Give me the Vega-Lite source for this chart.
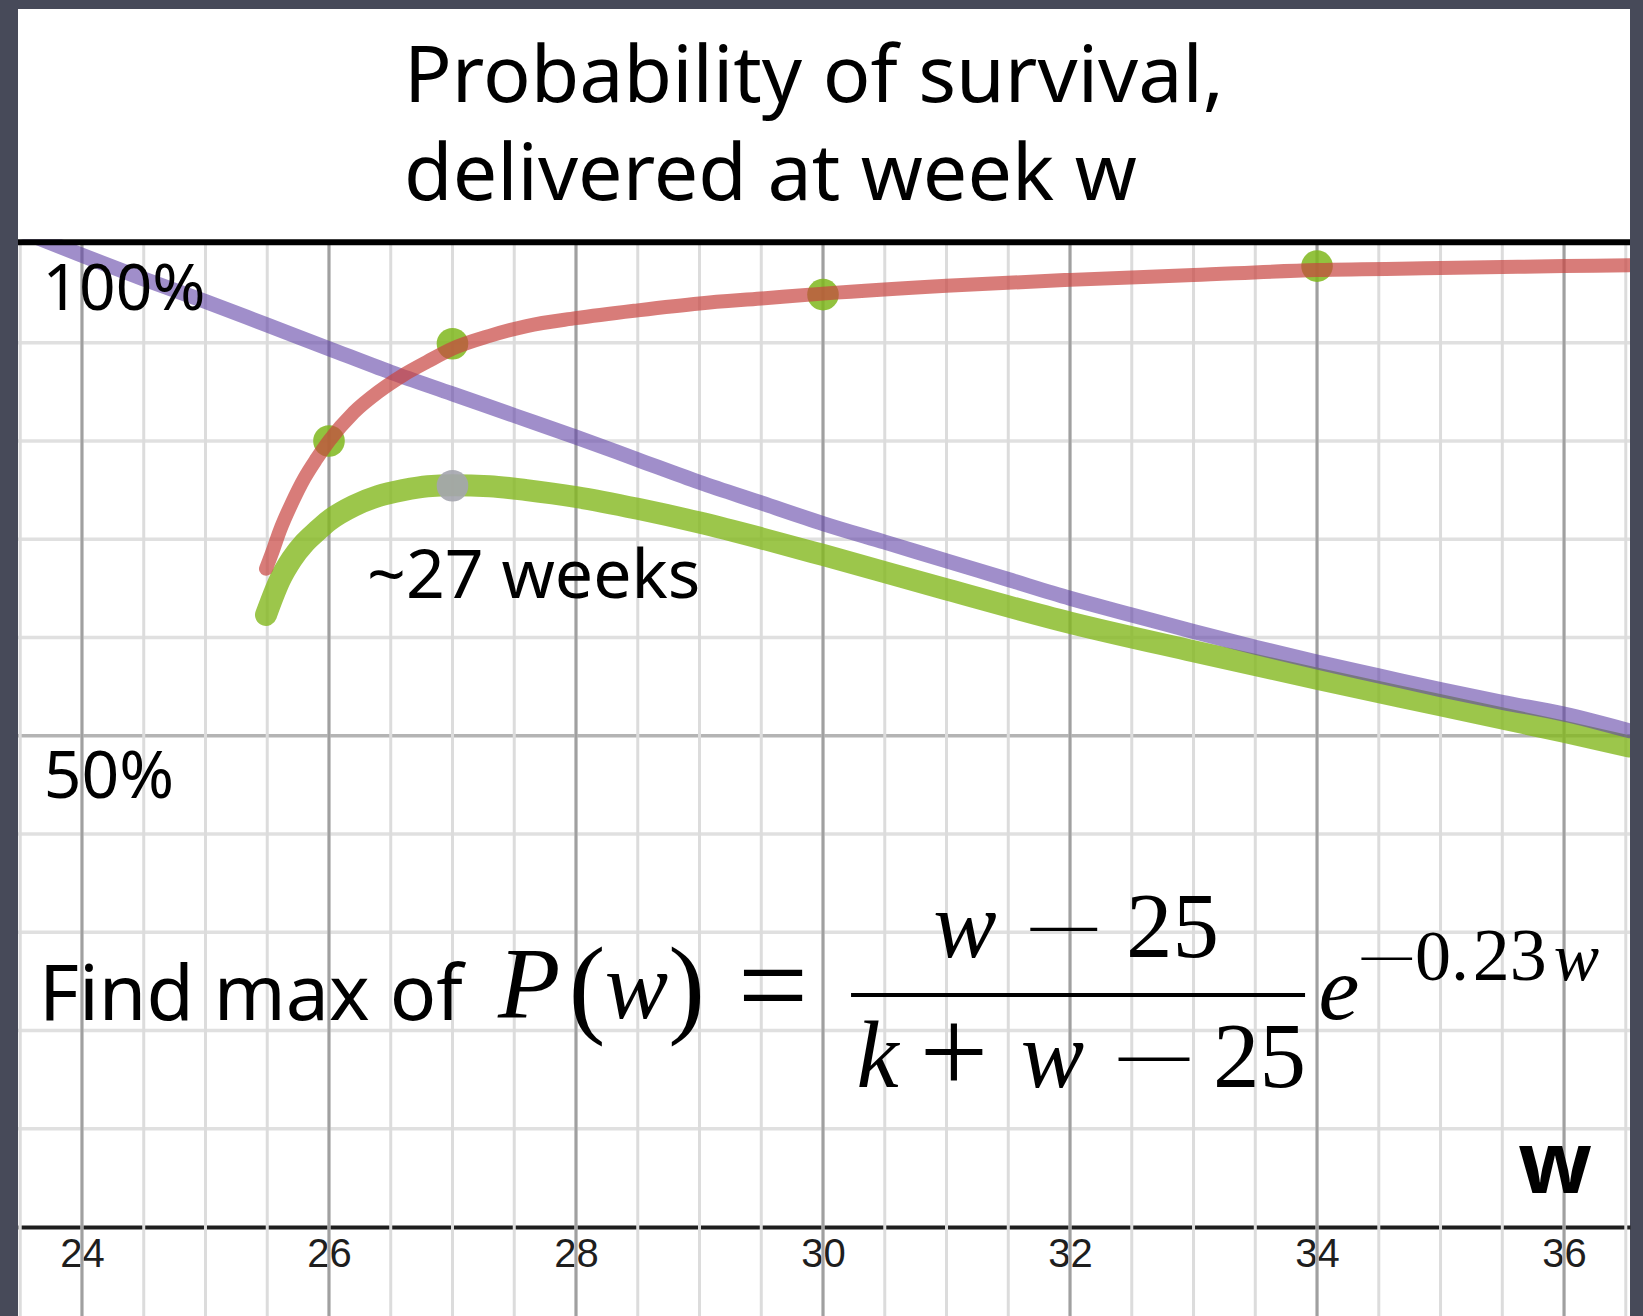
{
  "$schema": "https://vega.github.io/schema/vega-lite/v6.json",
  "width": 1612,
  "height": 1307,
  "autosize": {"type": "none"},
  "padding": {"left": 18, "top": 9, "right": 13, "bottom": 0},
  "background": "#474a59",
  "config": {
    "view": {"fill": "white", "stroke": null},
    "axisY": {"disable": true},
    "axis": {"title": null}
  },
  "datasets": {
    "vminor": [{"w":23.5},{"w":24},{"w":24.5},{"w":25},{"w":25.5},{"w":26},{"w":26.5},{"w":27},{"w":27.5},{"w":28},{"w":28.5},{"w":29},{"w":29.5},{"w":30},{"w":30.5},{"w":31},{"w":31.5},{"w":32},{"w":32.5},{"w":33},{"w":33.5},{"w":34},{"w":34.5},{"w":35},{"w":35.5},{"w":36},{"w":36.5}],
    "vmajor": [{"w":24},{"w":26},{"w":28},{"w":30},{"w":32},{"w":34},{"w":36}],
    "hminor": [{"p":10},{"p":20},{"p":30},{"p":40},{"p":60},{"p":70},{"p":80},{"p":90}],
    "hmajor": [{"p":50}],
    "curves": [
      {"series":"survival","w":25.49,"p":67.0},{"series":"survival","w":25.55,"p":69.0},{"series":"survival","w":25.6,"p":70.8},{"series":"survival","w":25.7,"p":73.7},{"series":"survival","w":25.8,"p":76.2},{"series":"survival","w":25.9,"p":78.2},{"series":"survival","w":26.0,"p":80.0},{"series":"survival","w":26.2,"p":82.9},{"series":"survival","w":26.4,"p":85.0},{"series":"survival","w":26.6,"p":86.7},{"series":"survival","w":26.8,"p":88.1},{"series":"survival","w":27.0,"p":89.4},{"series":"survival","w":27.3,"p":90.7},{"series":"survival","w":27.6,"p":91.7},{"series":"survival","w":28.0,"p":92.5},{"series":"survival","w":28.5,"p":93.3},{"series":"survival","w":29.0,"p":94.0},{"series":"survival","w":29.5,"p":94.5},{"series":"survival","w":30.0,"p":95.0},{"series":"survival","w":31.0,"p":95.8},{"series":"survival","w":32.0,"p":96.4},{"series":"survival","w":33.0,"p":96.9},{"series":"survival","w":34.0,"p":97.4},{"series":"survival","w":35.0,"p":97.6},{"series":"survival","w":36.0,"p":97.8},{"series":"survival","w":36.53,"p":97.9},
      {"series":"decay","w":23.48,"p":101.5},{"series":"decay","w":24.0,"p":98.9},{"series":"decay","w":24.5,"p":96.5},{"series":"decay","w":25.0,"p":94.2},{"series":"decay","w":25.5,"p":91.8},{"series":"decay","w":26.0,"p":89.4},{"series":"decay","w":26.5,"p":87.0},{"series":"decay","w":27.0,"p":84.8},{"series":"decay","w":27.5,"p":82.6},{"series":"decay","w":28.0,"p":80.4},{"series":"decay","w":28.5,"p":78.1},{"series":"decay","w":29.0,"p":75.8},{"series":"decay","w":29.5,"p":73.7},{"series":"decay","w":30.0,"p":71.6},{"series":"decay","w":30.5,"p":69.7},{"series":"decay","w":31.0,"p":67.8},{"series":"decay","w":31.5,"p":65.9},{"series":"decay","w":32.0,"p":64.0},{"series":"decay","w":32.5,"p":62.3},{"series":"decay","w":33.0,"p":60.6},{"series":"decay","w":33.5,"p":59.0},{"series":"decay","w":34.0,"p":57.5},{"series":"decay","w":34.5,"p":56.1},{"series":"decay","w":35.0,"p":54.7},{"series":"decay","w":35.5,"p":53.4},{"series":"decay","w":36.0,"p":52.2},{"series":"decay","w":36.53,"p":50.5},
      {"series":"product","w":25.49,"p":62.3},{"series":"product","w":25.55,"p":64.3},{"series":"product","w":25.6,"p":65.8},{"series":"product","w":25.7,"p":68.0},{"series":"product","w":25.8,"p":69.6},{"series":"product","w":25.9,"p":70.8},{"series":"product","w":26.0,"p":71.9},{"series":"product","w":26.2,"p":73.4},{"series":"product","w":26.4,"p":74.4},{"series":"product","w":26.6,"p":75.0},{"series":"product","w":26.8,"p":75.4},{"series":"product","w":27.0,"p":75.5},{"series":"product","w":27.3,"p":75.4},{"series":"product","w":27.6,"p":75.0},{"series":"product","w":28.0,"p":74.3},{"series":"product","w":28.5,"p":73.1},{"series":"product","w":29.0,"p":71.7},{"series":"product","w":29.5,"p":70.1},{"series":"product","w":30.0,"p":68.4},{"series":"product","w":31.0,"p":64.9},{"series":"product","w":32.0,"p":61.5},{"series":"product","w":33.0,"p":58.6},{"series":"product","w":34.0,"p":55.8},{"series":"product","w":35.0,"p":53.1},{"series":"product","w":36.0,"p":50.4},{"series":"product","w":36.53,"p":48.9}
    ],
    "dots": [{"w":26,"p":80.0},{"w":27,"p":89.9},{"w":30,"p":94.9},{"w":34,"p":97.8}],
    "peak": [{"w":27,"p":75.45}]
  },
  "layer": [
    {
      "data": {"name": "hminor"},
      "mark": {"type": "rule", "color": "#e0e0e0", "strokeWidth": 3.5},
      "encoding": {
        "y": {"field": "p", "type": "quantitative", "scale": {"domain": [-9.06, 123.97], "nice": false, "zero": false}, "axis": null}
      }
    },
    {
      "data": {"name": "hmajor"},
      "mark": {"type": "rule", "color": "#b4b4b4", "strokeWidth": 3.5},
      "encoding": {
        "y": {"field": "p", "type": "quantitative", "axis": null}
      }
    },
    {
      "data": {"name": "vminor"},
      "mark": {"type": "rule", "color": "#dcdcdc", "strokeWidth": 3},
      "encoding": {
        "x": {"field": "w", "type": "quantitative",
              "scale": {"domain": [23.482, 36.534], "nice": false, "zero": false},
              "axis": {"values": [24, 26, 28, 30, 32, 34, 36], "orient": "bottom", "offset": -89, "format": "d",
                       "domain": true, "domainColor": "#1e1e1e", "domainWidth": 4, "ticks": false, "grid": false,
                       "labelFont": "Liberation Sans", "labelFontSize": 40, "labelColor": "#1e1e1e", "labelPadding": 7,
                       "labelFlush": false, "labelOverlap": false, "title": null}},
        "y": {"datum": -9.06, "type": "quantitative", "axis": null},
        "y2": {"datum": 100.2}
      }
    },
    {
      "data": {"name": "vmajor"},
      "mark": {"type": "rule", "color": "#a0a0a0", "strokeWidth": 3},
      "encoding": {
        "x": {"field": "w", "type": "quantitative"},
        "y": {"datum": -9.06, "type": "quantitative", "axis": null},
        "y2": {"datum": 100.2}
      }
    },
    {
      "data": {"name": "curves"},
      "transform": [{"filter": "datum.series === 'product'"}],
      "mark": {"type": "line", "color": "#83b81e", "opacity": 0.8, "strokeWidth": 22, "strokeCap": "round", "interpolate": "monotone", "clip": true},
      "encoding": {
        "x": {"field": "w", "type": "quantitative"},
        "y": {"field": "p", "type": "quantitative", "axis": null}
      }
    },
    {
      "data": {"name": "curves"},
      "transform": [{"filter": "datum.series === 'decay'"}],
      "mark": {"type": "line", "color": "#6042a6", "opacity": 0.6, "strokeWidth": 15, "strokeCap": "round", "interpolate": "monotone", "clip": true},
      "encoding": {
        "x": {"field": "w", "type": "quantitative"},
        "y": {"field": "p", "type": "quantitative", "axis": null}
      }
    },
    {
      "data": {"name": "dots"},
      "mark": {"type": "circle", "color": "#7fb71c", "opacity": 0.85, "size": 1000},
      "encoding": {
        "x": {"field": "w", "type": "quantitative"},
        "y": {"field": "p", "type": "quantitative", "axis": null}
      }
    },
    {
      "data": {"name": "curves"},
      "transform": [{"filter": "datum.series === 'survival'"}],
      "mark": {"type": "line", "color": "#c74440", "opacity": 0.7, "strokeWidth": 14, "strokeCap": "round", "interpolate": "monotone", "clip": true},
      "encoding": {
        "x": {"field": "w", "type": "quantitative"},
        "y": {"field": "p", "type": "quantitative", "axis": null}
      }
    },
    {
      "data": {"name": "peak"},
      "mark": {"type": "circle", "color": "#a4a5ae", "opacity": 0.9, "size": 1000},
      "encoding": {
        "x": {"field": "w", "type": "quantitative"},
        "y": {"field": "p", "type": "quantitative", "axis": null}
      }
    },
    {
      "data": {"values": [{"part": "title area"}]},
      "mark": {"type": "rect", "color": "white"},
      "encoding": {
        "x": {"datum": 23.482, "type": "quantitative"}, "x2": {"datum": 36.534},
        "y": {"datum": 100.53, "type": "quantitative", "axis": null}, "y2": {"datum": 123.97}
      }
    },
    {
      "data": {"values": [{"part": "separator"}]},
      "mark": {"type": "rule", "color": "black", "strokeWidth": 6},
      "encoding": {
        "x": {"datum": 23.482, "type": "quantitative"}, "x2": {"datum": 36.534},
        "y": {"datum": 100.23, "type": "quantitative", "axis": null}
      }
    },
    {
      "data": {"values": [{"part": "title"}]},
      "mark": {"type": "text", "text": ["Probability of survival,", "delivered at week w"], "lineHeight": 98, "align": "left", "baseline": "alphabetic", "font": "Noto Sans", "fontSize": 79, "color": "black"},
      "encoding": {"x": {"datum": 26.608, "type": "quantitative"}, "y": {"datum": 114.5, "type": "quantitative", "axis": null}}
    },
    {
      "data": {"values": [{"label": "100%"}]},
      "mark": {"type": "text", "align": "left", "baseline": "alphabetic", "font": "Noto Sans", "fontSize": 64, "color": "black"},
      "encoding": {"x": {"datum": 23.68, "type": "quantitative"}, "y": {"datum": 93.33, "type": "quantitative", "axis": null}, "text": {"field": "label"}}
    },
    {
      "data": {"values": [{"label": "50%"}]},
      "mark": {"type": "text", "align": "left", "baseline": "alphabetic", "font": "Noto Sans", "fontSize": 66, "color": "black"},
      "encoding": {"x": {"datum": 23.69, "type": "quantitative"}, "y": {"datum": 43.66, "type": "quantitative", "axis": null}, "text": {"field": "label"}}
    },
    {
      "data": {"values": [{"label": "~27 weeks"}]},
      "mark": {"type": "text", "align": "left", "baseline": "alphabetic", "font": "Noto Sans", "fontSize": 68, "color": "black"},
      "encoding": {"x": {"datum": 26.308, "type": "quantitative"}, "y": {"datum": 64.02, "type": "quantitative", "axis": null}, "text": {"field": "label"}}
    },
    {
      "data": {"values": [{"label": "Find max of"}]},
      "mark": {"type": "text", "align": "left", "baseline": "alphabetic", "font": "Noto Sans", "fontSize": 77, "color": "black"},
      "encoding": {"x": {"datum": 23.652, "type": "quantitative"}, "y": {"datum": 21.07, "type": "quantitative", "axis": null}, "text": {"field": "label"}}
    },
    {
      "data": {"values": [{"label": "w"}]},
      "mark": {"type": "text", "align": "center", "baseline": "alphabetic", "font": "Noto Sans", "fontWeight": "bold", "fontSize": 86, "color": "black"},
      "encoding": {"x": {"datum": 35.927, "type": "quantitative"}, "y": {"datum": 3.46, "type": "quantitative", "axis": null}, "text": {"field": "label"}}
    },
    {
      "data": {"values": [{"label": "P"}]},
      "mark": {"type": "text", "align": "center", "baseline": "alphabetic", "font": "Liberation Serif", "fontStyle": "italic", "fontSize": 102, "color": "black"},
      "encoding": {"x": {"datum": 27.62, "type": "quantitative"}, "y": {"datum": 21.27, "type": "quantitative", "axis": null}, "text": {"field": "label"}}
    },
    {
      "data": {"values": [{"label": "("}]},
      "mark": {"type": "text", "align": "center", "baseline": "alphabetic", "font": "Liberation Serif", "fontSize": 110, "color": "black"},
      "encoding": {"x": {"datum": 28.089, "type": "quantitative"}, "y": {"datum": 20.76, "type": "quantitative", "axis": null}, "text": {"field": "label"}}
    },
    {
      "data": {"values": [{"label": "w"}]},
      "mark": {"type": "text", "align": "center", "baseline": "alphabetic", "font": "Liberation Serif", "fontStyle": "italic", "fontSize": 95, "color": "black"},
      "encoding": {"x": {"datum": 28.49, "type": "quantitative"}, "y": {"datum": 21.27, "type": "quantitative", "axis": null}, "text": {"field": "label"}}
    },
    {
      "data": {"values": [{"label": ")"}]},
      "mark": {"type": "text", "align": "center", "baseline": "alphabetic", "font": "Liberation Serif", "fontSize": 110, "color": "black"},
      "encoding": {"x": {"datum": 28.895, "type": "quantitative"}, "y": {"datum": 20.76, "type": "quantitative", "axis": null}, "text": {"field": "label"}}
    },
    {
      "data": {"values": [{"label": "="}]},
      "mark": {"type": "text", "align": "center", "baseline": "alphabetic", "font": "Liberation Serif", "fontSize": 125, "color": "black"},
      "encoding": {"x": {"datum": 29.595, "type": "quantitative"}, "y": {"datum": 20.38, "type": "quantitative", "axis": null}, "text": {"field": "label"}}
    },
    {
      "data": {"values": [{"label": "w"}]},
      "mark": {"type": "text", "align": "center", "baseline": "alphabetic", "font": "Liberation Serif", "fontStyle": "italic", "fontSize": 95, "color": "black"},
      "encoding": {"x": {"datum": 31.15, "type": "quantitative"}, "y": {"datum": 27.48, "type": "quantitative", "axis": null}, "text": {"field": "label"}}
    },
    {
      "data": {"values": [{"label": "—"}]},
      "mark": {"type": "text", "align": "center", "baseline": "alphabetic", "font": "Liberation Serif", "fontSize": 66, "color": "black"},
      "encoding": {"x": {"datum": 31.95, "type": "quantitative"}, "y": {"datum": 28.73, "type": "quantitative", "axis": null}, "text": {"field": "label"}}
    },
    {
      "data": {"values": [{"label": "25"}]},
      "mark": {"type": "text", "align": "center", "baseline": "alphabetic", "font": "Liberation Serif", "fontSize": 93, "color": "black"},
      "encoding": {"x": {"datum": 32.83, "type": "quantitative"}, "y": {"datum": 27.48, "type": "quantitative", "axis": null}, "text": {"field": "label"}}
    },
    {
      "data": {"values": [{"part": "fraction bar"}]},
      "mark": {"type": "rule", "color": "black", "strokeWidth": 4},
      "encoding": {
        "x": {"datum": 30.227, "type": "quantitative"}, "x2": {"datum": 33.903},
        "y": {"datum": 23.61, "type": "quantitative", "axis": null}
      }
    },
    {
      "data": {"values": [{"label": "k"}]},
      "mark": {"type": "text", "align": "center", "baseline": "alphabetic", "font": "Liberation Serif", "fontStyle": "italic", "fontSize": 95, "color": "black"},
      "encoding": {"x": {"datum": 30.441, "type": "quantitative"}, "y": {"datum": 14.25, "type": "quantitative", "axis": null}, "text": {"field": "label"}}
    },
    {
      "data": {"values": [{"label": "+"}]},
      "mark": {"type": "text", "align": "center", "baseline": "alphabetic", "font": "Liberation Serif", "fontSize": 122, "color": "black"},
      "encoding": {"x": {"datum": 31.06, "type": "quantitative"}, "y": {"datum": 13.65, "type": "quantitative", "axis": null}, "text": {"field": "label"}}
    },
    {
      "data": {"values": [{"label": "w"}]},
      "mark": {"type": "text", "align": "center", "baseline": "alphabetic", "font": "Liberation Serif", "fontStyle": "italic", "fontSize": 95, "color": "black"},
      "encoding": {"x": {"datum": 31.858, "type": "quantitative"}, "y": {"datum": 14.25, "type": "quantitative", "axis": null}, "text": {"field": "label"}}
    },
    {
      "data": {"values": [{"label": "—"}]},
      "mark": {"type": "text", "align": "center", "baseline": "alphabetic", "font": "Liberation Serif", "fontSize": 70, "color": "black"},
      "encoding": {"x": {"datum": 32.68, "type": "quantitative"}, "y": {"datum": 15.39, "type": "quantitative", "axis": null}, "text": {"field": "label"}}
    },
    {
      "data": {"values": [{"label": "25"}]},
      "mark": {"type": "text", "align": "center", "baseline": "alphabetic", "font": "Liberation Serif", "fontSize": 93, "color": "black"},
      "encoding": {"x": {"datum": 33.535, "type": "quantitative"}, "y": {"datum": 14.25, "type": "quantitative", "axis": null}, "text": {"field": "label"}}
    },
    {
      "data": {"values": [{"label": "e"}]},
      "mark": {"type": "text", "align": "center", "baseline": "alphabetic", "font": "Liberation Serif", "fontStyle": "italic", "fontSize": 92, "color": "black"},
      "encoding": {"x": {"datum": 34.178, "type": "quantitative"}, "y": {"datum": 21.17, "type": "quantitative", "axis": null}, "text": {"field": "label"}}
    },
    {
      "data": {"values": [{"label": "—"}]},
      "mark": {"type": "text", "align": "center", "baseline": "alphabetic", "font": "Liberation Serif", "fontSize": 50, "color": "black"},
      "encoding": {"x": {"datum": 34.565, "type": "quantitative"}, "y": {"datum": 26.1, "type": "quantitative", "axis": null}, "text": {"field": "label"}}
    },
    {
      "data": {"values": [{"label": "0."}]},
      "mark": {"type": "text", "align": "center", "baseline": "alphabetic", "font": "Liberation Serif", "fontSize": 72, "color": "black"},
      "encoding": {"x": {"datum": 35.012, "type": "quantitative"}, "y": {"datum": 25.14, "type": "quantitative", "axis": null}, "text": {"field": "label"}}
    },
    {
      "data": {"values": [{"label": "23"}]},
      "mark": {"type": "text", "align": "center", "baseline": "alphabetic", "font": "Liberation Serif", "fontSize": 74, "color": "black"},
      "encoding": {"x": {"datum": 35.56, "type": "quantitative"}, "y": {"datum": 25.14, "type": "quantitative", "axis": null}, "text": {"field": "label"}}
    },
    {
      "data": {"values": [{"label": "w"}]},
      "mark": {"type": "text", "align": "center", "baseline": "alphabetic", "font": "Liberation Serif", "fontStyle": "italic", "fontSize": 68, "color": "black"},
      "encoding": {"x": {"datum": 36.1, "type": "quantitative"}, "y": {"datum": 25.14, "type": "quantitative", "axis": null}, "text": {"field": "label"}}
    }
  ]
}
